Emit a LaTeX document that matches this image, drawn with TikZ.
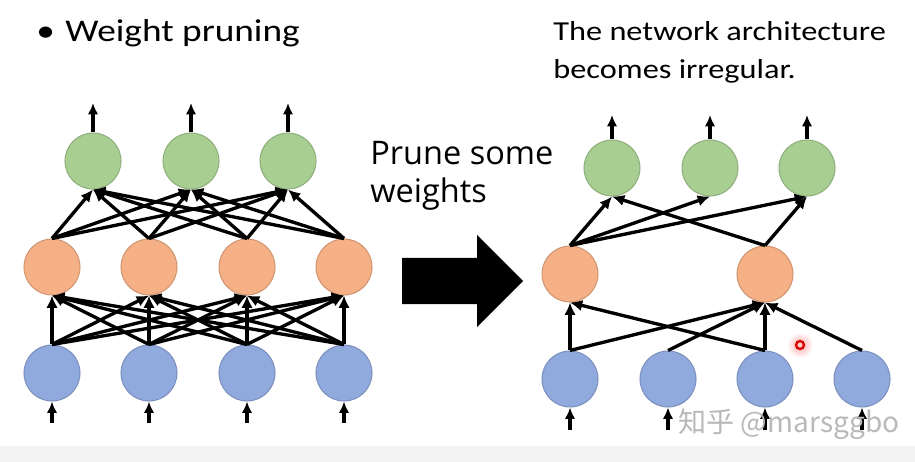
\documentclass[tikz,border=0pt]{standalone}
\usepackage{fontspec}
\setmainfont[FakeStretch=1.18]{Carlito}
\newfontfamily\segoe{Open Sans}
\newfontfamily\cjk{Noto Sans CJK SC}
\usetikzlibrary{arrows.meta}
\definecolor{nngreen}{RGB}{169,206,146}
\definecolor{nnorange}{RGB}{245,176,134}
\definecolor{nnblue}{RGB}{145,170,222}
\definecolor{nnband}{RGB}{243,243,243}

\begin{document}
\begin{tikzpicture}[x=0.02cm, y=-0.02cm,
    neuron/.style={circle, minimum size=1.12cm, inner sep=0pt, line width=0.6pt},
    inp/.style={neuron, draw=nnblue!85!black, fill=nnblue},
    hid/.style={neuron, draw=nnorange!85!black, fill=nnorange},
    outp/.style={neuron, draw=nngreen!85!black, fill=nngreen},
    wt/.style={-{Latex[length=7pt,width=6.5pt]}, line width=1.9pt},
    io/.style={-{Latex[length=6.5pt,width=6pt]}, line width=2pt}
  ]
  \useasboundingbox (0,0) rectangle (915,462);
  \fill[nnband] (0,446) rectangle (915,462);

  % texts
  \node[anchor=base west, font=\fontsize{18}{21}\selectfont, inner sep=0pt] (title) at (36,42) {\textbullet\hspace{6pt}Weight pruning};
  \node[anchor=base west, font=\segoe\fontsize{18.5}{21}\selectfont, inner sep=0pt] (prune1) at (370,165) {Prune some};
  \node[anchor=base west, font=\segoe\fontsize{18.5}{21}\selectfont, inner sep=0pt] (prune2) at (370,203) {weights};
  \node[anchor=base west, font=\fontsize{15.6}{21}\selectfont, inner sep=0pt] (note1) at (553,41) {The network architecture};
  \node[anchor=base west, font=\fontsize{15.6}{21}\selectfont, inner sep=0pt] (note2) at (553,79) {becomes irregular.};

  % left: full network
  \foreach \i/\x in {1/52,2/149,3/247,4/344} {
    \node[inp] (lb\i) at (\x,373) {};
    \node[hid] (lh\i) at (\x,267) {};
    \coordinate (lin\i) at (\x,423);
  }
  \foreach \i/\x in {1/93,2/191,3/288} {
    \node[outp] (lo\i) at (\x,161) {};
    \coordinate (lout\i) at (\x,103);
  }
  \foreach \i in {1,...,4} {
    \draw[io] (lin\i) -- (lb\i.south);
    \foreach \j in {1,...,4}
      \draw[wt] (lb\i.north) -- (lh\j.south);
    \foreach \j in {1,...,3}
      \draw[wt] (lh\i.north) -- (lo\j.south);
  }
  \foreach \j in {1,...,3}
    \draw[io] (lo\j.north) -- (lout\j);

  % big arrow
  \fill (402,258) -- (477,258) -- (477,235) -- (523,281) -- (477,327) -- (477,304) -- (402,304) -- cycle;

  % right: pruned network
  \foreach \i/\x in {1/570,2/668,3/765,4/862} {
    \node[inp] (rb\i) at (\x,379) {};
    \coordinate (rin\i) at (\x,430);
  }
  \node[hid] (rh1) at (570,274) {};
  \node[hid] (rh2) at (765,274) {};
  \foreach \i/\x in {1/612,2/710,3/807} {
    \node[outp] (ro\i) at (\x,168) {};
    \coordinate (rout\i) at (\x,115);
    \draw[io] (ro\i.north) -- (rout\i);
  }
  \foreach \i in {1,...,4}
    \draw[io] (rin\i) -- (rb\i.south);
  \draw[wt] (rb1.north) -- (rh1.south);
  \draw[wt] (rb1.north) -- (rh2.south);
  \draw[wt] (rb2.north) -- (rh2.south);
  \draw[wt] (rb3.north) -- (rh1.south);
  \draw[wt] (rb3.north) -- (rh2.south);
  \draw[wt] (rb4.north) -- (rh2.south);
  \draw[wt] (rh1.north) -- (ro1.south);
  \draw[wt] (rh1.north) -- (ro2.south);
  \draw[wt] (rh1.north) -- (ro3.south);
  \draw[wt] (rh2.north) -- (ro1.south);
  \draw[wt] (rh2.north) -- (ro3.south);

  % pointer and watermark
  \shade[inner color=red!35, outer color=white] (800,345) circle (13);
  \draw[red!85!black, line width=1.3pt, fill=red!20] (800,345) circle (4);
  \node[anchor=west, inner sep=0pt, text=gray!55, font=\cjk\fontsize{16}{20}\selectfont] (wm) at (678,424) {知乎 @marsggbo};
\end{tikzpicture}
\end{document}
